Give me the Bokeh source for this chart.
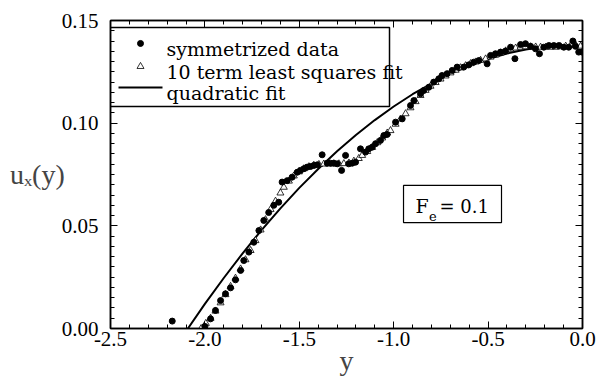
from bokeh.plotting import figure
from bokeh.models import (Range1d, LinearAxis, SingleIntervalTicker, NumeralTickFormatter,
                          Label, BoxAnnotation, CustomJSTickFormatter)
from bokeh.embed import file_html
from bokeh.resources import INLINE

# symmetrized data (filled circles)
data_y = [-2.173, -2.0, -1.97, -1.944, -1.917, -1.891, -1.864, -1.838, -1.811, -1.794,
          -1.767, -1.741, -1.714, -1.688, -1.662, -1.635, -1.609, -1.591, -1.564, -1.538,
          -1.511, -1.494, -1.476, -1.458, -1.441, -1.423, -1.405, -1.379, -1.352, -1.335,
          -1.317, -1.299, -1.276, -1.255, -1.238, -1.22, -1.202, -1.176, -1.149, -1.132,
          -1.114, -1.096, -1.07, -1.052, -1.035, -0.99, -0.955, -0.911, -0.893, -0.858,
          -0.841, -0.814, -0.788, -0.761, -0.744, -0.717, -0.69, -0.664, -0.629, -0.602,
          -0.576, -0.549, -0.505, -0.487, -0.461, -0.434, -0.408, -0.381, -0.358, -0.328,
          -0.302, -0.275, -0.249, -0.228, -0.205, -0.178, -0.152, -0.125, -0.099, -0.073,
          -0.051, -0.037, -0.02, -0.002]
data_u = [0.0036, 0.001, 0.0047, 0.0088, 0.0136, 0.0169, 0.0198, 0.0237, 0.0283, 0.0331,
          0.0372, 0.042, 0.0477, 0.0526, 0.0565, 0.060, 0.0615, 0.0713, 0.072, 0.0737,
          0.0761, 0.077, 0.0778, 0.0786, 0.0789, 0.0794, 0.0797, 0.0846, 0.0805, 0.0805,
          0.0805, 0.0802, 0.077, 0.0843, 0.0802, 0.0805, 0.081, 0.0875, 0.0859, 0.0875,
          0.0883, 0.09, 0.0916, 0.094, 0.0945, 0.1005, 0.1021, 0.1086, 0.111, 0.1143,
          0.1159, 0.1175, 0.12, 0.1216, 0.1232, 0.1241, 0.1257, 0.1273, 0.1273, 0.1284,
          0.1297, 0.1305, 0.1289, 0.133, 0.1338, 0.1346, 0.1351, 0.137, 0.1314, 0.1383,
          0.1387, 0.1374, 0.1362, 0.1338, 0.137, 0.1378, 0.1378, 0.1378, 0.137, 0.137,
          0.14, 0.1374, 0.1346, 0.1346]

# 10 term least squares fit (open triangles)
fit10_y = [-2.02, -1.995, -1.97, -1.944, -1.917, -1.891, -1.864, -1.838, -1.811, -1.785,
           -1.758, -1.732, -1.705, -1.679, -1.652, -1.626, -1.6, -1.582, -1.555, -1.529,
           -1.502, -1.476, -1.449, -1.423, -1.396, -1.37, -1.343, -1.317, -1.29, -1.264,
           -1.237, -1.211, -1.185, -1.167, -1.14, -1.114, -1.087, -1.061, -1.034, -1.017,
           -0.99, -0.964, -0.937, -0.911, -0.884, -0.858, -0.831, -0.805, -0.778, -0.752,
           -0.725, -0.699, -0.672, -0.646, -0.619, -0.593, -0.566, -0.54, -0.513, -0.487,
           -0.46, -0.434, -0.407, -0.381, -0.354, -0.328, -0.301, -0.275, -0.248, -0.222,
           -0.195, -0.169, -0.142, -0.116, -0.089, -0.063, -0.036, -0.01]
fit10_u = [0.0, 0.0025, 0.005, 0.0085, 0.0125, 0.0165, 0.0205, 0.0245, 0.029, 0.0335,
           0.038, 0.0428, 0.048, 0.053, 0.058, 0.062, 0.066, 0.0688, 0.0718, 0.0743,
           0.0763, 0.0778, 0.0788, 0.0795, 0.0799, 0.0801, 0.0802, 0.0802, 0.0802, 0.0803,
           0.0806, 0.0815, 0.0828, 0.0843, 0.0862, 0.0882, 0.0905, 0.0928, 0.0952, 0.0964,
           0.0995, 0.102, 0.1046, 0.1075, 0.1105, 0.1135, 0.116, 0.118, 0.1198, 0.1215,
           0.123, 0.1245, 0.1258, 0.127, 0.128, 0.129, 0.1298, 0.1306, 0.1313, 0.1322,
           0.1332, 0.1342, 0.1352, 0.136, 0.1366, 0.137, 0.1372, 0.1372, 0.1371, 0.137,
           0.137, 0.137, 0.137, 0.1372, 0.1375, 0.1378, 0.138, 0.1375]

# quadratic fit (solid line)
quad_y = [-2.09, -2.0, -1.9, -1.8, -1.7, -1.6, -1.5, -1.4, -1.3, -1.2, -1.1, -1.0,
          -0.9, -0.8, -0.7, -0.6, -0.5, -0.4, -0.3, -0.2, -0.1, 0.0]
quad_u = [0.0, 0.012, 0.0246, 0.0366, 0.0479, 0.0585, 0.0685, 0.0777, 0.0863, 0.0942,
          0.1015, 0.1081, 0.1141, 0.1193, 0.124, 0.1279, 0.1312, 0.1339, 0.1359, 0.1373,
          0.138, 0.137]

legend_labels = ["symmetrized data", "10 term least squares fit", "quadratic fit"]

x_ticks_interval = 0.5
y_ticks_interval = 0.05

FONT = "Liberation Serif"
LABEL_FONT = "DejaVu Serif"

p = figure(width=597, height=385, output_backend="svg", toolbar_location=None,
           x_range=Range1d(-2.5, 0.0), y_range=Range1d(0.0, 0.15 + 1e-9),
           min_border_left=110, min_border_right=15, min_border_top=20, min_border_bottom=57)
p.xgrid.visible = False
p.ygrid.visible = False
p.outline_line_color = "black"
p.outline_line_width = 1.5
p.background_fill_color = "white"
p.border_fill_color = "white"

def style_axis(ax, ticker, labels=True):
    ax.ticker = ticker
    ax.axis_line_color = "black"
    ax.axis_line_width = 1.5
    ax.major_tick_in = 7
    ax.major_tick_out = 0
    ax.minor_tick_in = 4
    ax.minor_tick_out = 0
    ax.major_tick_line_color = "black"
    ax.minor_tick_line_color = "black"
    ax.major_tick_line_width = 1
    ax.minor_tick_line_width = 1
    ax.major_label_text_font = FONT
    ax.major_label_text_font_size = "21px"
    ax.major_label_text_color = "black"
    if not labels:
        ax.formatter = CustomJSTickFormatter(code="return ''")
        ax.major_label_standoff = 0

xt = SingleIntervalTicker(interval=x_ticks_interval, num_minor_ticks=5)
yt = SingleIntervalTicker(interval=y_ticks_interval, num_minor_ticks=10)

xa = p.xaxis[0]
style_axis(xa, xt)
xa.formatter = NumeralTickFormatter(format="0.0")
xa.major_label_standoff = 3
xa.axis_label = "y"
xa.axis_label_text_font = FONT
xa.axis_label_text_font_size = "28px"
xa.axis_label_text_font_style = "normal"
try:
    xa.axis_label_standoff = -4
except Exception:
    xa.axis_label_standoff = 0

ya = p.yaxis[0]
style_axis(ya, yt)
ya.formatter = NumeralTickFormatter(format="0.00")
ya.major_label_standoff = 12
ya.axis_label = "u\u2093(y)"
ya.axis_label_text_font = FONT
ya.axis_label_text_font_size = "28px"
ya.axis_label_text_font_style = "normal"
try:
    ya.axis_label_orientation = "horizontal"
except Exception:
    pass
try:
    ya.axis_label_standoff = -6
except Exception:
    ya.axis_label_standoff = 0

top = LinearAxis()
style_axis(top, SingleIntervalTicker(interval=x_ticks_interval, num_minor_ticks=5), labels=False)
p.add_layout(top, "above")
right = LinearAxis()
style_axis(right, SingleIntervalTicker(interval=y_ticks_interval, num_minor_ticks=10), labels=False)
p.add_layout(right, "right")

# legend box drawn underneath the glyphs
p.add_layout(BoxAnnotation(left=-2.5, right=-1.0222, bottom=0.10813, top=0.14661,
                           fill_color="white", fill_alpha=1.0, line_color="black",
                           line_alpha=1.0, line_width=1.5, level="underlay"))

# data
p.line(quad_y, quad_u, line_color="black", line_width=2)
p.scatter(fit10_y, fit10_u, marker="triangle", size=7, fill_color="white",
          line_color="black", line_width=0.8)
p.scatter(data_y, data_u, marker="circle", size=6, fill_color="black", line_color="black")

# legend sample glyphs
key_x = -2.3411
p.scatter([key_x], [0.13882], marker="circle", size=6, fill_color="black", line_color="black")
p.scatter([key_x], [0.12762], marker="triangle", size=7, fill_color="white",
          line_color="black", line_width=0.8)
p.line([-2.4576, -2.2246], [0.11739, 0.11739], line_color="black", line_width=2)

def lab(x, y, t, size, align="left"):
    p.add_layout(Label(x=x, y=y, text=t, text_font=LABEL_FONT, text_font_size=size,
                       text_color="black", text_align=align, text_baseline="alphabetic"))

for lbl, yy in zip(legend_labels, [0.13589, 0.12468, 0.11447]):
    lab(-2.2034, yy, lbl, "19px")

# F_e box
p.add_layout(BoxAnnotation(left=-0.948, right=-0.429, bottom=0.0516, top=0.0697,
                           fill_color="white", fill_alpha=1.0, line_color="black",
                           line_alpha=1.0, line_width=1.2))
lab(-0.8846, 0.05943, "F", "19px")
lab(-0.8130, 0.05455, "e", "13px")
lab(-0.7574, 0.05943, "= 0.1", "18px")

open("out.html", "w").write(file_html(p, INLINE))
